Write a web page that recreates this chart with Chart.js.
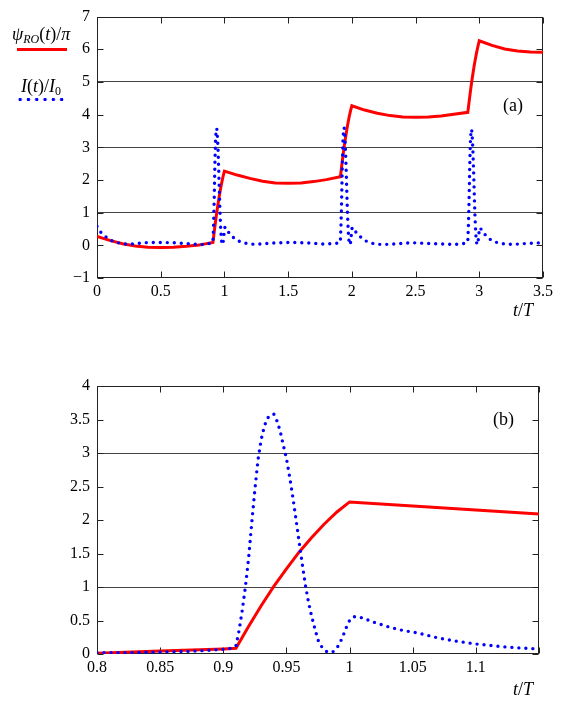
<!DOCTYPE html>
<html>
<head>
<meta charset="utf-8">
<script src="https://cdn.jsdelivr.net/npm/chart.js@4"></script>
<style>
  body { margin: 0; background: #fff; }
  #wrap { position: relative; width: 575px; height: 709px; font-family: "Liberation Serif", serif; color: #000; }
  canvas { position: absolute; left: 0; top: 0; }
  .lbl { position: absolute; font-size: 18px; line-height: 18px; white-space: nowrap; }
  .lbl sub { font-size: 12px; vertical-align: -3px; line-height: 0; }
  .swatchRed { position: absolute; left: 17px; top: 48px; width: 50px; height: 3px; background: #ff0000; }
  .swatchBlue { position: absolute; left: 16px; top: 97px; width: 52px; height: 5px;
    background: radial-gradient(circle, #0000ff 1.5px, rgba(0,0,255,0) 2px) 0 0 / 8.3px 5px repeat-x; }
</style>
</head>
<body>
<div id="wrap">
  <canvas id="chartA" width="575" height="709"></canvas>
  <canvas id="chartB" width="575" height="709"></canvas>

  <div class="lbl" style="left:12px; top:25px;"><i>ψ<sub>RO</sub></i>(<i>t</i>)/<i>π</i></div>
  <div class="swatchRed"></div>
  <div class="lbl" style="left:21px; top:77px;"><i>I</i>(<i>t</i>)/<i>I</i><sub>0</sub></div>
  <div class="swatchBlue"></div>

  <div class="lbl" style="left:503px; top:96px;">(a)</div>
  <div class="lbl" style="left:493px; top:410px;">(b)</div>
  <div class="lbl" style="left:513px; top:301px;"><i>t</i>/<i>T</i></div>
  <div class="lbl" style="left:513px; top:680px;"><i>t</i>/<i>T</i></div>
</div>

<script>
// Panel (a): phase psi_RO/pi and current I/I0 over three periods
const tPsiA = [0, 0.1, 0.2, 0.3, 0.4, 0.5, 0.6, 0.7, 0.8, 0.85,
  0.91, 0.92, 0.93, 0.94, 0.95, 0.96, 0.97, 0.98, 0.99, 1.0,
  1.1, 1.2, 1.3, 1.4, 1.5, 1.6, 1.7, 1.8,
  1.91, 1.92, 1.93, 1.94, 1.95, 1.96, 1.97, 1.98, 1.99, 2.0,
  2.1, 2.2, 2.3, 2.4, 2.5, 2.6, 2.7, 2.8,
  2.91, 2.92, 2.93, 2.94, 2.95, 2.96, 2.97, 2.98, 2.99, 3.0,
  3.1, 3.2, 3.3, 3.4, 3.5];
const psiA = [0.27, 0.15, 0.05, -0.02, -0.06, -0.07, -0.06, -0.03, 0.01, 0.045,
  0.085, 0.41, 0.72, 1.01, 1.27, 1.52, 1.74, 1.94, 2.12, 2.27,
  2.15, 2.05, 1.96, 1.91, 1.9, 1.91, 1.95, 2.01,
  2.1, 2.42, 2.73, 3.02, 3.28, 3.53, 3.75, 3.95, 4.12, 4.27,
  4.14, 4.04, 3.97, 3.93, 3.92, 3.93, 3.96, 4.01,
  4.07, 4.39, 4.7, 4.99, 5.25, 5.5, 5.72, 5.92, 6.1, 6.26,
  6.12, 6.01, 5.95, 5.92, 5.91];

const tCurA = [0, 0.03, 0.07, 0.11, 0.15, 0.2, 0.25, 0.3, 0.37, 0.48, 0.6, 0.72, 0.8, 0.85, 0.9,
  0.905, 0.91, 0.915, 0.92, 0.925, 0.93, 0.935, 0.94, 0.945, 0.95, 0.955, 0.96, 0.965, 0.97, 0.975, 0.98, 0.985, 0.99, 0.995, 1.0,
  1.005, 1.01, 1.02, 1.04, 1.07, 1.1, 1.15, 1.2, 1.25, 1.38, 1.53, 1.67, 1.77, 1.85, 1.9,
  1.905, 1.91, 1.915, 1.92, 1.925, 1.93, 1.935, 1.94, 1.945, 1.95, 1.955, 1.96, 1.965, 1.97, 1.975, 1.98, 1.985, 1.99, 1.995, 2.0,
  2.005, 2.01, 2.02, 2.04, 2.07, 2.1, 2.15, 2.2, 2.3, 2.47, 2.64, 2.8, 2.85, 2.9,
  2.905, 2.91, 2.915, 2.92, 2.925, 2.93, 2.935, 2.94, 2.945, 2.95, 2.955, 2.96, 2.965, 2.97, 2.975, 2.98, 2.985, 2.99, 2.995, 3.0,
  3.005, 3.01, 3.02, 3.04, 3.07, 3.1, 3.15, 3.2, 3.27, 3.38, 3.5];
const curA = [0.58, 0.4, 0.26, 0.15, 0.09, 0.05, 0.03, 0.05, 0.08, 0.09, 0.08, 0.05, 0.02, 0.03, 0.07,
  0.08, 0.12, 0.65, 1.42, 2.45, 3.2, 3.52, 3.58, 3.33, 2.92, 2.35, 1.68, 1.03, 0.56, 0.21, 0.06, 0.02, 0.09, 0.28, 0.5,
  0.56, 0.54, 0.47, 0.36, 0.24, 0.15, 0.075, 0.04, 0.03, 0.07, 0.09, 0.07, 0.04, 0.05, 0.07,
  0.08, 0.12, 0.65, 1.42, 2.45, 3.2, 3.54, 3.6, 3.35, 2.93, 2.36, 1.7, 1.05, 0.57, 0.22, 0.06, 0.02, 0.09, 0.28, 0.5,
  0.55, 0.53, 0.46, 0.37, 0.25, 0.15, 0.07, 0.03, 0.03, 0.08, 0.05, 0.03, 0.04, 0.07,
  0.08, 0.12, 0.63, 1.4, 2.42, 3.15, 3.48, 3.55, 3.3, 2.9, 2.33, 1.67, 1.02, 0.55, 0.21, 0.06, 0.02, 0.09, 0.27, 0.48,
  0.54, 0.52, 0.45, 0.35, 0.23, 0.14, 0.07, 0.04, 0.03, 0.06, 0.08];

// Panel (b): zoom on the first pulse
const tPsiB = [0.8, 0.85, 0.9, 0.91, 0.92, 0.93, 0.94, 0.95, 0.96, 0.97, 0.98, 0.99, 1.0, 1.05, 1.1, 1.15];
const psiB = [0.01, 0.045, 0.075, 0.085, 0.41, 0.72, 1.01, 1.27, 1.52, 1.74, 1.94, 2.12, 2.27, 2.21, 2.15, 2.09];

const tCurB = [0.8, 0.825, 0.85, 0.875, 0.9, 0.905, 0.91, 0.9125, 0.915, 0.9175,
  0.92, 0.9225, 0.925, 0.9275, 0.93, 0.9325, 0.935, 0.9375, 0.94, 0.9425,
  0.945, 0.9475, 0.95, 0.9525, 0.955, 0.9575, 0.96, 0.9625, 0.965, 0.9675,
  0.97, 0.9725, 0.975, 0.9775, 0.98, 0.9825, 0.985, 0.9875, 0.99, 0.9925,
  0.995, 0.9975, 1.0, 1.0025, 1.005, 1.01, 1.02, 1.03, 1.04, 1.055,
  1.07, 1.085, 1.1, 1.12, 1.135, 1.15];
const curB = [0.02, 0.02, 0.03, 0.04, 0.07, 0.08, 0.12, 0.35, 0.65, 1.0,
  1.42, 1.95, 2.45, 2.9, 3.2, 3.4, 3.52, 3.57, 3.58, 3.48,
  3.33, 3.12, 2.92, 2.65, 2.35, 2.02, 1.68, 1.35, 1.03, 0.77,
  0.56, 0.38, 0.21, 0.12, 0.06, 0.03, 0.02, 0.04, 0.09, 0.17,
  0.28, 0.4, 0.5, 0.55, 0.56, 0.54, 0.47, 0.41, 0.36, 0.31,
  0.24, 0.19, 0.15, 0.11, 0.09, 0.075];

// horizontal reference lines
const gridA = [1, 3, 5];
const gridB = [1, 3];

const FONT = { family: '"Liberation Serif", "Times New Roman", serif', size: 16 };

const zip = (xs, ys) => xs.map((x, i) => ({ x: x, y: ys[i] }));

// frame around the plot with inward ticks on all four sides
const framePlugin = {
  id: 'frame',
  beforeDatasetsDraw(chart) {
    const { ctx, chartArea: a, scales } = chart;
    const L = Math.round(a.left) + 0.5, R = Math.round(a.right) - 0.5;
    const T = Math.round(a.top) + 0.5, B = Math.round(a.bottom) - 0.5;
    ctx.save();
    ctx.strokeStyle = '#222';
    ctx.lineWidth = 1;
    ctx.beginPath();
    scales.x.ticks.forEach(t => {
      const px = Math.round(scales.x.getPixelForValue(t.value)) + 0.5;
      ctx.moveTo(px, B); ctx.lineTo(px, B - 6);
      ctx.moveTo(px, T); ctx.lineTo(px, T + 6);
    });
    scales.y.ticks.forEach(t => {
      const py = Math.round(scales.y.getPixelForValue(t.value)) + 0.5;
      ctx.moveTo(L, py); ctx.lineTo(L + 6, py);
      ctx.moveTo(R, py); ctx.lineTo(R - 6, py);
    });
    ctx.stroke();
    ctx.strokeRect(L, T, R - L, B - T);
    ctx.restore();
  }
};

function makeChart(id, cfg) {
  const ctx = document.getElementById(id).getContext('2d');
  return new Chart(ctx, {
    type: 'line',
    data: {
      datasets: [
        {
          label: 'psi',
          data: zip(cfg.tPsi, cfg.psi),
          borderColor: '#ff0000',
          borderWidth: 3,
          pointRadius: 0,
          tension: 0,
          order: 2
        },
        {
          label: 'I',
          data: zip(cfg.tCur, cfg.cur),
          borderColor: '#0000ff',
          borderWidth: 3.4,
          borderDash: [0, 7],
          borderCapStyle: 'round',
          pointRadius: 0,
          tension: 0,
          order: 1
        }
      ]
    },
    options: {
      responsive: false,
      animation: false,
      events: [],
      layout: { padding: cfg.padding },
      plugins: { legend: { display: false }, tooltip: { enabled: false } },
      scales: {
        x: {
          type: 'linear',
          min: cfg.xMin,
          max: cfg.xMax,
          grid: { display: false, drawTicks: false },
          border: { display: false },
          ticks: {
            stepSize: cfg.xStep,
            autoSkip: false,
            maxRotation: 0,
            padding: 4,
            color: '#000',
            font: FONT,
            callback: cfg.xLabel
          },
          afterFit: s => { s.height = 30; }
        },
        y: {
          type: 'linear',
          min: cfg.yMin,
          max: cfg.yMax,
          grid: {
            drawTicks: false,
            lineWidth: 1,
            color: c => (c.tick && cfg.grid.includes(c.tick.value) ? '#444' : 'rgba(0,0,0,0)')
          },
          border: { display: false },
          ticks: {
            stepSize: cfg.yStep,
            padding: 7,
            color: '#000',
            font: FONT,
            callback: v => (v < 0 ? '\u2212' + (-v) : String(+v.toFixed(2)))
          },
          afterFit: s => { s.width = 97; }
        }
      }
    },
    plugins: [framePlugin]
  });
}

makeChart('chartA', {
  tPsi: tPsiA, psi: psiA, tCur: tCurA, cur: curA,
  xMin: 0, xMax: 3.5, xStep: 0.5,
  yMin: -1, yMax: 7, yStep: 1,
  grid: gridA,
  padding: { top: 15, right: 32, bottom: 401, left: 0 },
  xLabel: v => String(+v.toFixed(2))
});

makeChart('chartB', {
  tPsi: tPsiB, psi: psiB, tCur: tCurB, cur: curB,
  xMin: 0.8, xMax: 1.15, xStep: 0.05,
  yMin: 0, yMax: 4, yStep: 0.5,
  grid: gridB,
  padding: { top: 386, right: 36, bottom: 25, left: 0 },
  xLabel: v => (v > 1.12 ? '' : String(+v.toFixed(2)))
});
</script>
</body>
</html>
